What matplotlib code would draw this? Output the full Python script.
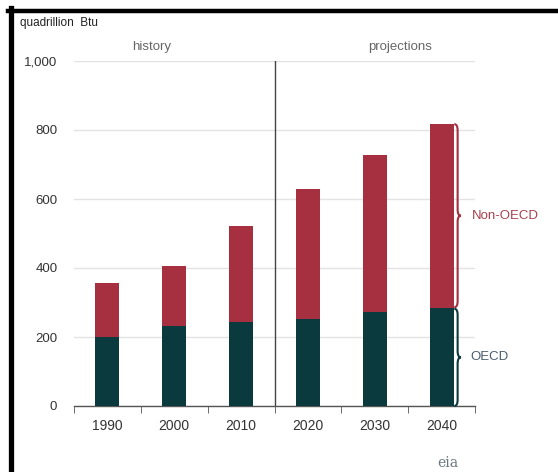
import matplotlib
matplotlib.use("Agg")
import matplotlib.pyplot as plt
from matplotlib.path import Path
from matplotlib.patches import PathPatch
from matplotlib.lines import Line2D

plt.rcParams['font.family'] = ['Liberation Sans', 'DejaVu Sans']

# data (quadrillion Btu)
years = ['1990', '2000', '2010', '2020', '2030', '2040']
oecd = [200, 232, 243, 252, 272, 284]
non_oecd = [156, 173, 279, 377, 456, 533]
y_ticks = [0, 200, 400, 600, 800, 1000]
y_labels = ['0', '200', '400', '600', '800', '1,000']

red = '#A62F40'
teal = '#0B3A3E'

W, H = 558, 472
fig = plt.figure(figsize=(W / 100, H / 100), dpi=100)
ax = fig.add_axes([74 / W, 1 - 406 / H, (475 - 74) / W, (406 - 61) / H])

x = list(range(len(years)))
totals = [a + b for a, b in zip(oecd, non_oecd)]
ax.bar(x, oecd, width=0.36, color=teal, zorder=3)
ax.bar(x, non_oecd, width=0.36, bottom=oecd, color=red, zorder=3)

ax.set_xlim(-0.5, 5.5)
ax.set_ylim(0, 1000)
ax.set_yticks(y_ticks)
ax.set_yticklabels(y_labels)
ax.yaxis.grid(True, color='#e3e3e3', lw=1, zorder=0)
ax.set_xticks(x)
ax.set_xticklabels(years)
ax.set_xticks([i - 0.5 for i in range(7)], minor=True)
ax.tick_params(axis='x', which='major', length=0, pad=9, labelsize=10, labelcolor='#333333')
ax.tick_params(axis='x', which='minor', length=5, color='#555555', direction='out')
ax.tick_params(axis='y', length=0, pad=12, labelsize=9.5, labelcolor='#333333')
for s in ['left', 'right', 'top']:
    ax.spines[s].set_visible(False)
ax.spines['bottom'].set_color('#555555')
ax.spines['bottom'].set_linewidth(1)

# history / projections divider
ax.axvline(2.5, ymin=0, ymax=1.0, color='#444444', lw=1, zorder=4)


def brace(x0, y0, y1, w, r, color):
    ym = (y0 + y1) / 2
    verts = [(x0, y1), (x0 + w, y1), (x0 + w, y1 - r),
             (x0 + w, ym + r),
             (x0 + w, ym), (x0 + 2 * w, ym),
             (x0 + w, ym), (x0 + w, ym - r),
             (x0 + w, y0 + r),
             (x0 + w, y0), (x0, y0)]
    codes = [Path.MOVETO, Path.CURVE3, Path.CURVE3,
             Path.LINETO,
             Path.CURVE3, Path.CURVE3,
             Path.CURVE3, Path.CURVE3,
             Path.LINETO,
             Path.CURVE3, Path.CURVE3]
    ax.add_patch(PathPatch(Path(verts, codes), fill=False, edgecolor=color,
                           lw=1.5, zorder=5, clip_on=False))


brace(5.19, oecd[-1] + 2, totals[-1], 0.05, 18, red)
brace(5.19, 0, oecd[-1] - 2, 0.05, 18, teal)

ax.text(5.46, oecd[-1] + non_oecd[-1] / 2, 'Non-OECD', color='#A8404F',
        fontsize=9.5, va='center', ha='left', clip_on=False)
ax.text(5.43, oecd[-1] / 2, 'OECD', color='#4A5E70',
        fontsize=9.5, va='center', ha='left', clip_on=False)

# header texts
fig.text(20 / W, 1 - 23 / H, 'quadrillion  Btu', fontsize=8.5, color='#222222',
         va='center', ha='left')
fig.text(152 / W, 1 - 47 / H, 'history', fontsize=9.5, color='#666666',
         va='center', ha='center')
fig.text(400 / W, 1 - 47 / H, 'projections', fontsize=9.5, color='#666666',
         va='center', ha='center')
fig.text(448 / W, 1 - 463 / H, 'eia', fontsize=10, color='#6a7a80',
         va='center', ha='center', family='DejaVu Serif')

# black frame (left and top)
fig.add_artist(Line2D([10.5 / W, 10.5 / W], [0, 1 - 8 / H], color='black', lw=3.8,
                      transform=fig.transFigure))
fig.add_artist(Line2D([8 / W, 1], [1 - 10.5 / H, 1 - 10.5 / H], color='black', lw=3.2,
                      transform=fig.transFigure))

plt.savefig('out.png', dpi=100)
